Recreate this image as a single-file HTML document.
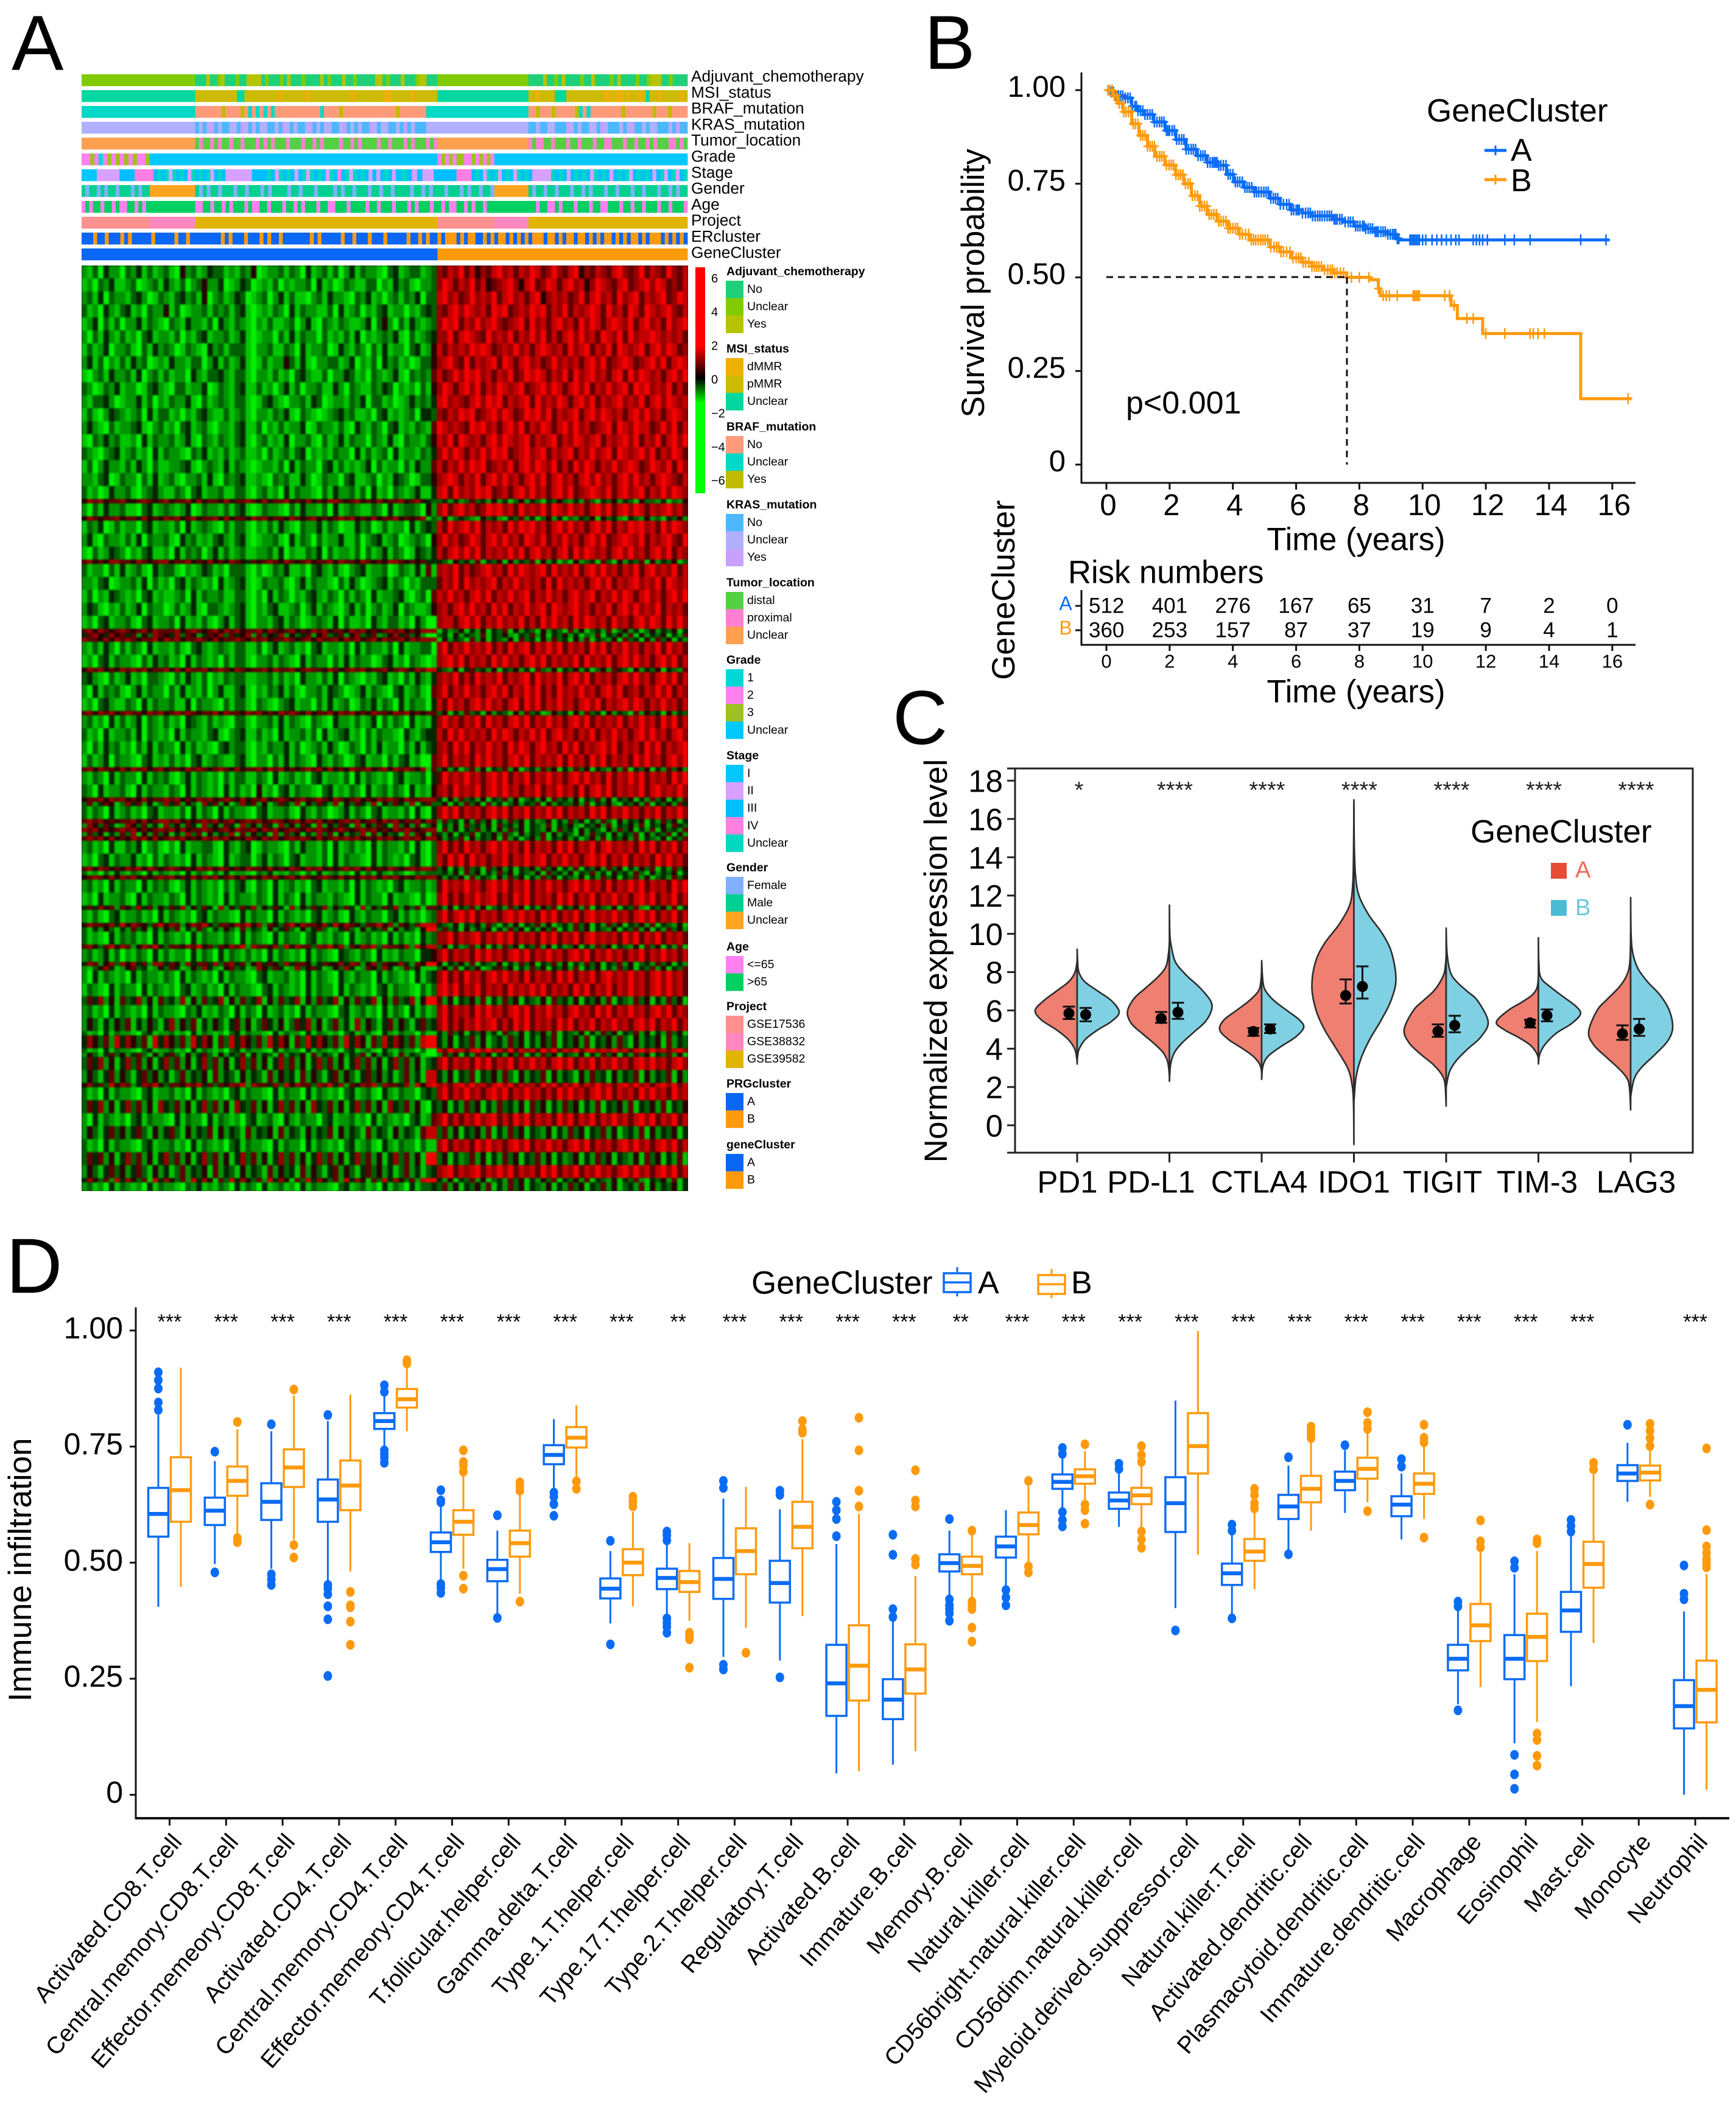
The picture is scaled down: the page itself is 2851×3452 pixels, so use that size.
<!DOCTYPE html>
<html lang="en">
<head>
<meta charset="utf-8">
<title>Gene cluster figure</title>
<style>
html,body{margin:0;padding:0;background:#fff;}
svg{display:block;}
text{font-family:"Liberation Sans",Arial,sans-serif;fill:#000;}
</style>
</head>
<body>
<svg id="fig" width="2851" height="3452" viewBox="0 0 2851 3452">
<defs>
<linearGradient id="cbGrad" x1="0" y1="0" x2="0" y2="1">
<stop offset="0" stop-color="#ff0000"/><stop offset=".35" stop-color="#ff0000"/><stop offset=".49" stop-color="#000000"/><stop offset=".6" stop-color="#00ff00"/><stop offset="1" stop-color="#00ff00"/>
</linearGradient>
<clipPath id="heatClip"><rect x="134" y="436" width="996" height="1520"/></clipPath>
</defs>
<rect x="0" y="0" width="2851" height="3452" fill="#fff"/>

<text x="19" y="115" font-size="128">A</text>
<text x="1518" y="113" font-size="125">B</text>
<text x="1466" y="1222" font-size="125">C</text>
<text x="10" y="2123" font-size="128">D</text>

<g id="panelA">
<g id="tracks"></g>
<g clip-path="url(#heatClip)">
<rect x="134" y="436" width="996" height="1520" fill="#200800"/>
<g id="heat" style="filter:blur(1.3px)"></g>
</g>
<rect x="1142" y="439" width="16" height="371" fill="url(#cbGrad)"/>
<g id="cbTicks"></g>
<g id="legendA"></g>
</g>

<g id="panelB">
<line x1="1776" y1="119" x2="1776" y2="794" stroke="#111" stroke-width="3"/>
<line x1="1775" y1="793" x2="2686" y2="793" stroke="#111" stroke-width="3"/>
<text x="1616" y="465" font-size="52.6" text-anchor="middle" transform="rotate(-90 1616 465)">Survival probability</text>
<text x="2227" y="886" font-size="52.6" text-anchor="middle" dominant-baseline="central">Time (years)</text>
<text x="1849" y="662" font-size="52" dominant-baseline="central">p&lt;0.001</text>
<text x="2343" y="182" font-size="53" dominant-baseline="central">GeneCluster</text>
<g id="bTicks"></g>
<g id="bCurves"></g>
<line x1="1817" y1="455" x2="2212" y2="455" stroke="#111" stroke-width="3" stroke-dasharray="11 8"/>
<line x1="2212" y1="455" x2="2212" y2="763" stroke="#111" stroke-width="3" stroke-dasharray="11 8"/>
<line x1="2438" y1="247" x2="2474" y2="247" stroke="#0a6cf5" stroke-width="5"/>
<line x1="2456" y1="239" x2="2456" y2="255" stroke="#0a6cf5" stroke-width="3"/>
<text x="2481" y="247" font-size="52" dominant-baseline="central">A</text>
<line x1="2438" y1="295" x2="2474" y2="295" stroke="#ff9a0c" stroke-width="5"/>
<line x1="2456" y1="287" x2="2456" y2="303" stroke="#ff9a0c" stroke-width="3"/>
<text x="2481" y="297" font-size="52" dominant-baseline="central">B</text>

<text x="1754" y="940" font-size="52.6" dominant-baseline="central">Risk numbers</text>
<line x1="1776" y1="969" x2="1776" y2="1060" stroke="#111" stroke-width="3"/>
<line x1="1775" y1="1059" x2="2686" y2="1059" stroke="#111" stroke-width="3"/>
<text x="1666" y="969" font-size="52.6" text-anchor="middle" transform="rotate(-90 1666 969)">GeneCluster</text>
<text x="2227" y="1136" font-size="52.6" text-anchor="middle" dominant-baseline="central">Time (years)</text>
<g id="riskTable"></g>
</g>

<g id="panelC">
<text x="1555" y="1578" font-size="53" text-anchor="middle" transform="rotate(-90 1555 1578)">Normalized expression level</text>
<g id="cViolins"></g>
<rect x="1667" y="1262" width="1113" height="631" fill="none" stroke="#222" stroke-width="3"/>
<line x1="1654" y1="1262" x2="1667" y2="1262" stroke="#222" stroke-width="3"/>
<line x1="1654" y1="1893" x2="1667" y2="1893" stroke="#222" stroke-width="3"/>
<g id="cTicks"></g>
<text x="2415" y="1366" font-size="53" dominant-baseline="central">GeneCluster</text>
<rect x="2547" y="1417" width="26" height="26" fill="#e64b35"/>
<text x="2587" y="1429" font-size="38" dominant-baseline="central" style="fill:#ee6a58">A</text>
<rect x="2547" y="1478" width="26" height="26" fill="#4dbbd5"/>
<text x="2587" y="1491" font-size="38" dominant-baseline="central" style="fill:#6cc8de">B</text>
</g>

<g id="panelD">
<line x1="223" y1="2147" x2="223" y2="2987" stroke="#111" stroke-width="3"/>
<line x1="222" y1="2986" x2="2840" y2="2986" stroke="#111" stroke-width="4"/>
<text x="51" y="2578" font-size="53" text-anchor="middle" transform="rotate(-90 51 2578)">Immune infiltration</text>
<text x="1234" y="2107" font-size="53" dominant-baseline="central">GeneCluster</text>
<line x1="1572" y1="2081" x2="1572" y2="2129" stroke="#0a6cf5" stroke-width="3"/>
<rect x="1550" y="2091" width="44" height="31" fill="#fff" stroke="#0a6cf5" stroke-width="3.5"/>
<line x1="1550" y1="2106" x2="1594" y2="2106" stroke="#0a6cf5" stroke-width="3.5"/>
<text x="1606" y="2107" font-size="52" dominant-baseline="central">A</text>
<line x1="1727" y1="2084" x2="1727" y2="2132" stroke="#ff9a0c" stroke-width="3"/>
<rect x="1705" y="2094" width="44" height="31" fill="#fff" stroke="#ff9a0c" stroke-width="3.5"/>
<line x1="1705" y1="2109" x2="1749" y2="2109" stroke="#ff9a0c" stroke-width="3.5"/>
<text x="1759" y="2107" font-size="52" dominant-baseline="central">B</text>
<g id="dTicks"></g>
<g id="dBoxes"></g>
</g>
</svg>

<script>
/* ---------- panel A data ---------- */
const trackNames = ['Adjuvant_chemotherapy','MSI_status','BRAF_mutation','KRAS_mutation','Tumor_location','Grade','Stage','Gender','Age','Project','ERcluster','GeneCluster'];
const adjuvantTrack = [[30,'U'],[64,'NNNYNNUYNNNUNNYYYYNUNNNUNYNNNUNNNNYNUNNNYNNUNNNNNYYNUNNNYNNNUYYNNN'],[24,'U'],[42,'NNNNYNNUNYNNNNUNNYNNNNUNYNNNNUNNUYYYNNUNNNN']];
const msiTrack = [[30,'U'],[64,'PPPPPPPPPPPUUPPPPPPPPPDPPPPPPDPPPPPPPPPPPDPPPPPPPPDDPPPPPDPPPPPP'],[24,'U'],[42,'PPDPPPPUUUPPPPPPPPPPDDPDDPDPPDPUPPDPPPPPDP']];
const brafTrack = [[30,'U'],[61,'NNNNNNNYNNNNYNUNUNUNUNNNNNNNNNNNNUNNNNYNNNNNNNNNNNNNNYNNNNNNN'],[27,'U'],[42,'NNYNNNYNNNNNYUNUNNNNNNNNYNNNNNNNYNNNYNNNN']];
const krasTrack = [[30,'U'],[61,'NUNUYNUNNUUNYUNUNUUNNUNYUNUNNUYNUNUUNNUYNUNUNNYUNUUNNUNYNUNNN'],[27,'U'],[42,'NNUNNUUNNNYUNUNNUUNYUNNNUNUYNNUNUUNNNUNYNN']];
const tumorTrack = [[30,'U'],[64,'DPDDPDPDDPDDPDDDPDPDPDDDPDDDPDDPDPDDDDPDDPDPDDDDPDDPDDDPDPDDDPDP'],[24,'U'],[42,'PDPPDDPDDDPDDPDDDPDDPPDDDPDDPDDPDPDDDPPDPD']];
const gradeTrack = [[18,'2232123232323223'],[76,'U'],[15,'232323322323232'],[51,'U']];
const stageTrack = [[4,'I'],[6,'B'],[4,'C'],[5,'D'],[19,'CUCUBUCUCBUCUCUBCUC'],[7,'B'],[4,'C'],[34,'UCBUCUCBCUBUCUCBUCDCUBUCUCBCBCUCB'],[7,'CUCBC'],[3,'B'],[6,'C'],[4,'D'],[16,'CUCBUCUBCUCBUCUC'],[5,'B'],[36,'UCUCBCUCUCBUCUCBCUCUBCUCUCBCUBCUBCU']];
const genderTrack = [[18,'MFMMFMFMMFMMMFMFMM'],[12,'U'],[79,'MFMFMMFMMMFMMFMMMFMFMMMMFMMFMMMFMMMMFMFMMFMMMFMMFMMFMMMMFMMFMFMMMFMMMFMFMMFMMF'],[9,'U'],[42,'MFMMFMMFMMMFMMFMFMMMFMMFMMMFMMFMMMFMMFMFMM']];
const ageTrack = [[18,'YOYOOYOOYOYYOOYOYO'],[12,'O'],[2,'Y'],[77,'OOYOOYOYOOOYOYYOOYOOOYOOYOYOOOYOOYYOOOYOOOOYOOYOOOYOOOYOYOOOYOOYOYYOOYOYOOYOO'],[9,'O'],[42,'OOYOOYYOYOOOYOOOYOOYYOOOYOOYOOYOOOYOOYOOOY']];
const projectTrack = [[18,'S'],[12,'T'],[64,'G'],[15,'S'],[9,'T'],[42,'G']];
const erTrack = [[94,'AAABAABAAABABAAAAABAAAAABAABAAAAAAAABABAAABAAABABAABAAAAAAABABAAAAABAABAAABAAABAAAAABAABABAA'],[66,'BABBBABABBAABABABBABABABABBBABBABABBABBABABABBABABABBABABBBABABABA']];
const geneTrack = [[94,'A'],[66,'B']];
const allTracks = [adjuvantTrack,msiTrack,brafTrack,krasTrack,tumorTrack,gradeTrack,stageTrack,genderTrack,ageTrack,projectTrack,erTrack,geneTrack];
const trackColors = [
 {N:'#1fd07a',U:'#80cc00',Y:'#b5c400'},
 {D:'#eeb000',P:'#ccbb00',U:'#00d8a0'},
 {N:'#ff9b7b',U:'#00d8c8',Y:'#c0bb00'},
 {N:'#4db8ff',U:'#b0b0ff',Y:'#c8a0ff'},
 {D:'#55d045',P:'#ff80d0',U:'#ffa050'},
 {1:'#00d8d8',2:'#ff80f0',3:'#a0c020',U:'#00c8ff'},
 {I:'#00c8ff',B:'#d8a0ff',C:'#00bfff',D:'#ff80e0',U:'#00d8c0'},
 {F:'#80b0ff',M:'#00d090',U:'#ffa520'},
 {Y:'#ff80f0',O:'#00d060'},
 {S:'#ff9090',T:'#ff88c0',G:'#e0b400'},
 {A:'#0a66f5',B:'#ff9a0c'},
 {A:'#0a66f5',B:'#ff9a0c'}
];
const heatLevels = ['#00f000','#00c400','#009400','#006000','#002800','#280000','#600000','#960000','#c40000','#f40000'];
/* each row: [genes represented, expression levels per sample block] */
const heatRows = [
[3,"213042203241312310523124331213250122313204123130241322103412331237687968576897868798679768957687689767968769768"],
[3,"120324112301231421302352240124301213021223041201321133021423102237986879685678975896798689785798768967897986768"],
[3,"231403221342013213423150231243012302413110231422103241202313240338978679787968978689578786796897869789687896798"],
[3,"312042134120322513012231323134101213204132211304123021341220213437689798786989678798968796878986978698698789768"],
[3,"124031302241321032142213042132102131123024103213211240352031421237989687978976789697868978697986898796897869789"],
[3,"203142131203412213021341223124101220314132203121314021232410312347796898769787968797968689797869879697889878786"],
[3,"131240223103142320132104231333102231132041223014213203141220341258687879898678797868987869789687969878968979867"],
[3,"241302131423012142213302413124101312253141022331240213042312013357897696878969868978679787868979678986789796898"],
[3,"102314223140231312204213342133102213120342113022431203212410323268679798978687967989868796978978689697987868979"],
[3,"320132412201342103312240132134113120241302231142032113243021203157986897968798789678979868979687978969897879686"],
[3,"213342012241302132241031232133101342102231430122132403312012423248978768979896878969787986897968789787968979878"],
[3,"131024321230413312021342113123102213241032101234231120341212304437687989678979867989796878968979878689797868987"],
[3,"242103122341023120341231022134113021312240132213104213203412132169878769897868979687986897978678969879886797968"],
[3,"103242311204132231241032132134102312140223103124132203214103221358796987868979878968789687987896878979687968979"],
[3,"321023412312041322103241213123112031231340212132204131230412213247979868797989678978968789687978969878979687986"],
[3,"130242213142031122341023214132101221304132203413121240312203142268687979896787968979879686979868797898679879697"],
[3,"221340132203141231022314103234112103231142013220341123021432013357898687968979786897968978689797868979786898768"],
[3,"312014223102342113203412231133102312041322103142231304120321241148969787989678689797868979678987968978968797987"],
[1,"576756675567656756675756657566765756675657565776567565756675675433424236342524135243143532426314352431533241325"],
[3,"203142231103412321240132213134101322103142213041232113204123320527968978679897869787969879786897968979868789786"],
[1,"576566756657565767567566757566576756657656756567675657566756567132513432153421436241352413243515342143252314352"],
[3,"132401312203412213041232103133102131421032241320114230131220413438697897968786979897868979786897968798978697987"],
[3,"241032213140322310423121342134101223104132031224113023412301232057978679868979786987968797868979678987968789769"],
[3,"103124320213411204132302413123112231402113240312213031241320143248689797968787979689786896979878689797868979687"],
[1,"675657766576567756675657565765465676576567566757665765657765656444315342614351524361524131523416315243615243513"],
[3,"312203141231042331021243120333102013241120342131023412230132141617879686789786979878969787968979786879689787968"],
[3,"221340122314031203413212041234101322310241322103142012341320213336879697878968797878696978786897968789787969878"],
[3,"130214321203412112304132231133102041320213421320313204122341023068797868979687978968797868978968797986897868979"],
[3,"243102131240322013124103321234102134112302413210241302312403211257868979786979687978969878978687968979787968786"],
[3,"120341223103412230412131024134102213413201232140311204213312042007886897968797879686979786979878697868979869797"],
[1,"675765676567576667567656757675667576567565767566576756567675657771423514251436152431524316251342613524135243514"],
[1,"467547564625376547365246573645726354725346257346257346235746352003415243261435214362514352413261435261524351426"],
[1,"766575767656675767566765756676576756676567576675767567576675767771524316251432516341526341526143251634152635142"],
[3,"213142031320412213103421232133113024123120341221304132213041223307968797879686978968797968786979687978687969786"],
[3,"120341322103142312041321203133102231321041322031413220134120321017897968786979786897968787969787968979786897968"],
[1,"576756576767566757576675676576566757667567665765676756675676576884325146342514352416325143524135264315243514326"],
[3,"342103124120332103142130213233112231312042213140321021341203142147879686978796878969787968979687868979786897968"],
[3,"204132310241322031412130241134102132413102231432012413210341231067968797868979687979686978797868979678687979687"],
[3,"120342113204132231140322103133103210234122031412301324132041322048697868979786896979687978689796878979868797868"],
[1,"675767567665767567676566757665767565767657566757675657665767565663514263415243152634125341526341524316253415243"],
[3,"231204131240321312043213121033102231413210321042213124031320412147978687969786897968797868979687879687978697968"],
[3,"312041223140321204132213410234113120412231304123412031322104213448697978786979868797968978687968797868979786897"],
[3,"203142312031413220413121034233102132241301231420132031412203141347869796879786979868978697968789796878697968789"],
[3,"131240322103412131203412321134102203141321042132013412203134120067968786979786897968787969786979687869797868979"],
[1,"675766575767567566576765676575667576756567675756576675675767657163524136251436251342635142635143252614351426352"],
[3,"213204132204132310241321203133113204123120341221304132120341223046978797868979687968797868979786968797968786979"],
[3,"320412231041322132041321204131205120341322103412132041231320412157869787968979786879687978696897968787968978797"],
[1,"566757675657566767565767567657566756765675676576567565767657667774152634251436251342516342514362514351426351426"],
[1,"362465137462513746253174625137462513642715364271536427153642714633514263516241352436152433526143521435261435264"],
[3,"313204123120341221304132041322103412231042132012413203412213041047979687868979687968797968786979687978687968797"],
[1,"676756566757567767565676756756767567656757675656767567576756675762634152635142635142351426351426315243514263514"],
[1,"275364127536241735264173526417352641735264172536417253641735261351425163425163425143261435214352614352614352643"],
[1,"767565676756567675756676567576675767567657676567656767565767656771625143624152635143251634152431526351426153426"],
[1,"263514263715263514273615243716253417263514273615243716253417265164251436143526315243615243152634152436152436152"],
[1,"676757565767575676756576767565765767567676575676767565767567675775243615243516241352614352413526143526143251436"],
[3,"231204113240231020412233104213401322103142213041231204132213041037968697868979786968786979687968978786979687968"],
[3,"120341322412031321204132104123302413203412213041322104132120341038697969786879687978968797868979687968786979786"],
[1,"675765657675765676565767576565766575657657675656767575657656767763514263416352414352635142614352635142536142635"],
[1,"312031421320413212041320314122103241213203141231204131421320132333425163514263514325163425143624153426315243514"],
[1,"567657576756567675657576756757565767567576567657565767576756576775243516243152635142635143251426351436251342635"],
[3,"231204132204132310241321203134103204123120341221304132120341223126978797868979687968797868979786968797968786979"],
[3,"120412231041322132041321204132213204132041322132104132204122103017968687978968697968786979687968797868979687968"],
[1,"464756265374625364725364172536472536417253647253641725364725361664251436251342635142536143526143251436214352614"],
[3,"213103412231204132120341322104132204132120341231042132203413120237968979687868979786979687968978797868979687968"],
[1,"576657485765368576257685366576857265368576657485765366857265368884325143526314251436251342635142635143526143251"],
[1,"314253142635142536142631425316243152463152463124631524361524315993634152435142635142536142635143251436251426352"],
[3,"312104132312041321204132213204132104132203412132041231204131204237796878968797968786979687968978786979687968786"],
[1,"675368576257685366576856365768276657385766376857265768376657285883514236251426351436251423514263514325163514261"],
[3,"231241302132041312204132041321312041321204132104321320412132204457968786979786897968797868979687978687968797868"],
[1,"476257375746277465274664736746257465374665246557476257365574265995143526143251426351436251426351436251342635142"],
[1,"213574125634125364125374215634127536412735641253741265374126351113526143512463514263514352614351426351436251436"],
[3,"204132120413221320413212041322103412231204132104213220413212041347968697868979786968786979687968978797868979786"],
[3,"132104132204132120341231204132210341321204132204132120341322103138979687968786978797968786979687968797868979786"],
[2,"364725163472516342715263471526347152634715263471526347152634715996251435261426351432516342514352614326351426351"],
[3,"231204132120413221032412132041320412312041322103412312041320413127968786979786897968797868978697968797868979687"],
[3,"253142536142531472536142531462513642513647251362417253146253146347968687978968697968786979687968797868979687968"],
[1,"312041322103412231204132120341322104132204132120341231042132203114263514352416325143526143251426351436251426351"],
[3,"475362847536184753628475163847536284751638475362847516384753628994251436251342635142536143526143526315243516243"],
[1,"312041322103412231204132120341322104132204132120341231042132203008697868979786968786979687968978797868979786897"],
[1,"253146352463152463152463152436152431624351624315243615243162431002635142635142536142635143251426351426351436251"],
[3,"364725147362514736251473625147362514736251473625147362514736251347968786979687968797868979687968797868979786897"],
[3,"253146253146352413624351624315243162534162531462531463524136241884251436143526315243615243152634152436152436152"],
[1,"574638576247685366576846365768276647385766376847265768376647285897868979786897968786979687968797868979786897968"],
[3,"312041322103412231204132120341322104132204132120341231042132203437968797868979687978686979786897968786979786978"],
[3,"364725147362517436251473625174362514736251743625147362517436251043514263514263425163514263514261435261435261435"],
[3,"204132120341322104132204132120341231042132203412231204132120341267968687978968697968786979687968797868979687968"],
[3,"253146352463152463152436152431624351624315243615243162431524316883625143526142635143251426351436251342615243514"],
[3,"312041322103412231204132120341322104132204132120341231042132203117968786979786897968797868979687868979786897968"],
[3,"364625147362514736251473625147362514736251473625147362514736251993514236251426351436251423514263514325163514261"],
[3,"253146352463152413624351624315243162534162531462531463524136241347896878968797968786979687968797868979786897968"],
[1,"475362847536184753628475163847536284751638475362847516384753628994251436251342635142536143526143251436214352614"],
[2,"231204132120413221032412132041320412312041322103412312041320413343625143526142635143251426351436251342615243514"]
];
const legendGroups = [
 ['Adjuvant_chemotherapy',446,[['No','#1fd07a'],['Unclear','#80cc00'],['Yes','#b5c400']]],
 ['MSI_status',573,[['dMMR','#eeb000'],['pMMR','#ccbb00'],['Unclear','#00d8a0']]],
 ['BRAF_mutation',701,[['No','#ff9b7b'],['Unclear','#00d8c8'],['Yes','#c0bb00']]],
 ['KRAS_mutation',829,[['No','#4db8ff'],['Unclear','#b0b0ff'],['Yes','#c8a0ff']]],
 ['Tumor_location',957,[['distal','#55d045'],['proximal','#ff80d0'],['Unclear','#ffa050']]],
 ['Grade',1084,[['1','#00d8d8'],['2','#ff80f0'],['3','#a0c020'],['Unclear','#00c8ff']]],
 ['Stage',1241,[['I','#00c8ff'],['II','#d8a0ff'],['III','#00bfff'],['IV','#ff80e0'],['Unclear','#00d8c0']]],
 ['Gender',1425,[['Female','#80b0ff'],['Male','#00d090'],['Unclear','#ffa520']]],
 ['Age',1555,[['<=65','#ff80f0'],['>65','#00d060']]],
 ['Project',1653,[['GSE17536','#ff9090'],['GSE38832','#ff88c0'],['GSE39582','#e0b400']]],
 ['PRGcluster',1780,[['A','#0a66f5'],['B','#ff9a0c']]],
 ['geneCluster',1880,[['A','#0a66f5'],['B','#ff9a0c']]]
];
const colorbarTicks = [6,4,2,0,-2,-4,-6];

/* ---------- panel B data ---------- */
const timesA = [0,.15,.3,.53,.8,1.0,1.2,1.5,1.86,2.2,2.52,2.85,3.19,3.52,3.8,4.02,4.35,4.68,5.18,5.5,5.84,6.2,6.5,7.17,7.5,7.83,8.2,8.5,8.9,9.16,9.3,15.9];
const survA = [1,.995,.985,.979,.957,.945,.935,.915,.892,.868,.842,.825,.807,.799,.775,.755,.74,.728,.711,.695,.68,.672,.664,.655,.648,.637,.63,.622,.615,.603,.6,.6];
const timesB = [0,.2,.35,.53,.8,1.03,1.3,1.53,1.85,2.19,2.45,2.69,2.95,3.19,3.5,3.85,4.2,4.51,5.18,5.5,5.84,6.2,6.5,6.85,7.17,7.6,8.33,8.6,8.66,10.7,10.9,11.1,11.9,15,16.6];
const survB = [1,.985,.965,.942,.91,.879,.85,.823,.8,.774,.75,.718,.69,.668,.65,.631,.615,.6,.581,.568,.552,.54,.529,.52,.512,.5,.494,.47,.451,.451,.425,.39,.35,.176,.176];
const censorA = [.1,.15,.22,.3,.38,.45,.52,.6,.68,.75,.82,.9,.95,1.0,1.08,1.15,1.22,1.3,1.38,1.45,1.52,1.6,1.68,1.75,1.82,1.9,1.95,2.0,2.08,2.15,2.22,2.3,2.38,2.45,2.52,2.6,2.68,2.75,2.82,2.9,2.98,3.05,3.12,3.2,3.28,3.35,3.4,3.45,3.5,3.55,3.62,3.7,3.78,3.85,3.92,4.0,4.08,4.15,4.22,4.3,4.38,4.45,4.52,4.6,4.68,4.75,4.82,4.9,4.98,5.05,5.12,5.2,5.28,5.35,5.42,5.5,5.6,5.7,5.78,5.85,5.92,6.0,6.05,6.1,6.2,6.3,6.38,6.45,6.52,6.6,6.68,6.75,6.82,6.9,6.98,7.05,7.12,7.2,7.25,7.3,7.38,7.45,7.55,7.65,7.72,7.8,7.88,7.95,8.02,8.1,8.15,8.2,8.28,8.35,8.42,8.5,8.55,8.6,8.68,8.75,8.82,8.9,8.98,9.05,9.1,9.15,9.2,9.25,9.6,9.65,9.7,9.75,9.8,9.85,9.9,10.0,10.1,10.3,10.45,10.6,10.75,10.9,11.05,11.15,11.6,11.7,11.8,11.9,12.05,12.6,12.9,13.4,15.0,15.8];
const censorB = [.05,.1,.18,.25,.32,.4,.48,.55,.62,.7,.78,.85,.92,1.0,1.08,1.15,1.22,1.3,1.38,1.45,1.52,1.6,1.68,1.75,1.82,1.9,1.98,2.05,2.12,2.2,2.28,2.35,2.42,2.5,2.58,2.65,2.72,2.8,2.88,2.95,3.02,3.1,3.18,3.25,3.32,3.4,3.48,3.55,3.62,3.7,3.78,3.85,3.92,4.0,4.08,4.15,4.22,4.3,4.4,4.5,4.58,4.65,4.72,4.8,4.88,4.95,5.02,5.1,5.2,5.3,5.38,5.45,5.52,5.6,5.7,5.8,5.9,6.0,6.08,6.15,6.22,6.3,6.4,6.5,6.58,6.65,6.72,6.8,6.9,7.0,7.08,7.15,7.22,7.3,7.4,7.5,7.62,7.75,8.0,8.3,8.6,8.75,8.85,8.95,9.2,9.7,9.75,9.8,9.85,9.9,10.7,10.85,11.0,11.4,11.6,12.0,12.6,13.4,13.5,13.65,13.85,16.5];
const survYTicks = [[1,'1.00'],[.75,'0.75'],[.5,'0.50'],[.25,'0.25'],[0,'0']];
const timeTicks = [0,2,4,6,8,10,12,14,16];
const riskA = [512,401,276,167,65,31,7,2,0];
const riskB = [360,253,157,87,37,19,9,4,1];

/* ---------- panel C data ---------- */
const genes = ['PD1','PD-L1','CTLA4','IDO1','TIGIT','TIM-3','LAG3'];
const geneStars = ['*','****','****','****','****','****','****'];
const exprTicks = [0,2,4,6,8,10,12,14,16,18];
const densityA = [
 [[8.6,0],[8,.05],[7.5,.2],[7,.5],[6.5,.8],[6,1],[5.5,.85],[5,.5],[4.5,.22],[4,.06],[3.5,.01],[3.2,0]],
 [[9.6,0],[9,.02],[8.3,.08],[7.8,.25],[7.2,.55],[6.6,.85],[5.9,1],[5.3,.9],[4.8,.65],[4.3,.38],[3.8,.15],[3.3,.04],[2.6,0]],
 [[8.2,0],[7.5,.02],[7,.08],[6.5,.3],[6,.6],[5.5,.9],[5,1],[4.5,.8],[4,.45],[3.6,.2],[3.2,.05],[2.8,0]],
 [[16.7,0],[14,.01],[12.5,.03],[11.5,.1],[10.5,.35],[9.5,.7],[8.5,.92],[7.2,1],[6,.9],[5,.7],[4,.42],[3,.15],[2.2,.05],[1.2,.01],[-1,0]],
 [[8.8,0],[8,.04],[7.5,.14],[7,.3],[6.5,.55],[6,.78],[5,1],[4.3,.88],[3.7,.6],[3.2,.32],[2.7,.12],[2.2,.03],[1,0]],
 [[7.8,0],[7.2,.03],[6.8,.15],[6.4,.42],[6,.72],[5.4,1],[5,.82],[4.6,.48],[4.2,.2],[3.8,.05],[3.5,0]],
 [[10,0],[8.5,.02],[7.8,.1],[7.2,.28],[6.6,.55],[6,.8],[4.9,1],[4.2,.88],[3.5,.55],[3,.3],[2.5,.1],[2,.03],[.8,0]]
];
const densityB = [
 [[9.2,0],[8.6,.01],[8,.04],[7.5,.18],[7,.5],[6.5,.82],[5.9,1],[5.4,.8],[5,.5],[4.5,.2],[4,.05],[3.6,.01],[3.3,0]],
 [[11.5,0],[10,.01],[9.3,.05],[8.5,.15],[7.8,.42],[7.2,.72],[6.5,.98],[6,1],[5.4,.85],[4.9,.6],[4.3,.3],[3.8,.12],[3.2,.03],[2.3,0]],
 [[8.6,0],[7.5,.03],[7,.1],[6.5,.3],[6,.6],[5.5,.9],[5.1,1],[4.6,.8],[4.1,.45],[3.6,.15],[3.1,.03],[2.4,0]],
 [[17,0],[14.5,.01],[13,.04],[12,.12],[11,.35],[10,.68],[9,.9],[7.6,1],[6.5,.88],[5.5,.65],[4.5,.38],[3.5,.17],[2.5,.05],[1.2,0]],
 [[10.3,0],[9,.02],[8,.1],[7.5,.25],[7,.5],[6.5,.75],[5.4,1],[4.6,.82],[4,.52],[3.4,.25],[2.8,.08],[2,0]],
 [[9.8,0],[8.5,.01],[7.7,.06],[7.2,.3],[6.7,.6],[6.2,.9],[5.8,1],[5.3,.78],[4.8,.42],[4.2,.15],[3.7,.03],[3.2,0]],
 [[11.9,0],[10,.01],[9,.05],[8.2,.17],[7.5,.4],[6.8,.7],[6,.92],[5.1,1],[4.4,.88],[3.7,.58],[3,.25],[2.4,.08],[1.5,0]]
];
const meanA = [5.85,5.58,4.9,6.78,4.91,5.35,4.78];
const upperA = [6.2,5.92,5.08,7.62,5.27,5.51,5.22];
const lowerA = [5.55,5.35,4.67,6.36,4.62,5.11,4.46];
const meanB = [5.78,5.9,5.03,7.25,5.22,5.74,5.03];
const upperB = [6.13,6.4,5.27,8.3,5.72,6.05,5.56];
const lowerB = [5.43,5.56,4.82,6.62,4.86,5.43,4.67];

/* ---------- panel D data ---------- */
const cellTypes = ['Activated.CD8.T.cell','Central.memory.CD8.T.cell','Effector.memeory.CD8.T.cell','Activated.CD4.T.cell','Central.memory.CD4.T.cell','Effector.memeory.CD4.T.cell','T.follicular.helper.cell','Gamma.delta.T.cell','Type.1.T.helper.cell','Type.17.T.helper.cell','Type.2.T.helper.cell','Regulatory.T.cell','Activated.B.cell','Immature.B.cell','Memory.B.cell','Natural.killer.cell','CD56bright.natural.killer.cell','CD56dim.natural.killer.cell','Myeloid.derived.suppressor.cell','Natural.killer.T.cell','Activated.dendritic.cell','Plasmacytoid.dendritic.cell','Immature.dendritic.cell','Macrophage','Eosinophil','Mast.cell','Monocyte','Neutrophil'];
const cellStars = ['***','***','***','***','***','***','***','***','***','**','***','***','***','***','**','***','***','***','***','***','***','***','***','***','***','***','','***'];
const infiltrationTicks = [[1,'1.00'],[.75,'0.75'],[.5,'0.50'],[.25,'0.25'],[0,'0']];
const aQ3 = [.661,.640,.671,.679,.822,.565,.506,.753,.466,.487,.51,.504,.323,.249,.518,.556,.69,.651,.684,.498,.646,.696,.643,.323,.344,.437,.71,.247];
const aMed = [.605,.612,.631,.636,.805,.544,.486,.732,.444,.467,.465,.456,.24,.205,.499,.535,.674,.634,.628,.477,.621,.676,.625,.293,.293,.397,.692,.191];
const aQ1 = [.556,.581,.592,.588,.788,.523,.46,.712,.423,.443,.422,.414,.17,.163,.481,.511,.659,.616,.566,.452,.594,.656,.6,.268,.249,.351,.676,.143];
const aHi = [.818,.719,.783,.805,.874,.621,.569,.809,.525,.542,.638,.615,.54,.375,.569,.613,.727,.696,.849,.567,.709,.742,.692,.4,.475,.559,.758,.395];
const aLo = [.405,.497,.487,.461,.742,.462,.391,.655,.369,.387,.297,.289,.046,.065,.425,.45,.613,.577,.402,.39,.525,.607,.55,.195,.111,.234,.631,0];
const aOut = [[.91,.893,.875,.845,.829],[.739,.479],[.798,.475,.464,.452],[.818,.452,.444,.432,.406,.378,.256],[.882,.868,.742,.734,.726,.715],[.656,.634,.63,.454,.446,.435],[.602,.381],[.651,.642,.626,.601],[.547,.324],[.567,.559,.548,.38,.37,.362,.349],[.676,.661,.28,.27],[.655,.646,.253],[.631,.613,.594,.557],[.56,.517,.4,.383],[.594,.421,.408,.4,.391,.375],[.441,.425,.408],[.747,.734,.609,.592,.578],[.713,.702],[.354],[.582,.569,.38],[.727,.518],[.753],[.723,.707],[.416,.406,.182],[.503,.489,.086,.044,.013],[.592,.579,.567],[.797],[.494,.433,.421]];
const bQ3 = [.727,.707,.744,.72,.874,.613,.569,.792,.529,.482,.574,.631,.365,.324,.513,.608,.701,.661,.822,.551,.687,.726,.692,.411,.39,.545,.709,.289];
const bMed = [.656,.676,.705,.666,.852,.588,.542,.769,.5,.458,.525,.577,.278,.27,.493,.581,.686,.645,.751,.524,.659,.702,.67,.365,.34,.497,.694,.226];
const bQ1 = [.588,.644,.663,.613,.834,.56,.513,.748,.473,.437,.475,.531,.203,.218,.475,.561,.67,.626,.692,.504,.63,.681,.648,.331,.288,.446,.677,.156];
const bHi = [.92,.787,.86,.862,.922,.688,.663,.839,.609,.542,.663,.766,.605,.471,.563,.665,.74,.716,.999,.613,.763,.78,.751,.525,.525,.69,.759,.475];
const bLo = [.448,.561,.55,.481,.783,.487,.433,.684,.406,.375,.36,.385,.051,.094,.416,.5,.63,.573,.517,.443,.569,.63,.594,.232,.157,.327,.642,.011];
const bOut = [[],[.803,.553,.544],[.873,.538,.511],[.437,.408,.404,.373,.323],[.936,.929],[.742,.717,.709,.696,.472,.444],[.673,.663,.655,.416],[.675,.659],[.642,.631,.621],[.349,.341,.335,.274],[.306],[.805,.787,.78],[.812,.742,.655,.621],[.699,.634,.621,.508,.496],[.569,.416,.408,.4,.36,.33],[.676,.492,.479],[.755,.625,.613,.584],[.751,.732,.717,.567,.55,.532],[],[.659,.646,.628,.617],[.793,.784,.776,.768],[.824,.801,.788,.611],[.797,.769,.759,.554],[.591,.546,.533],[.55,.542,.132,.118,.084,.063],[.715,.701],[.799,.784,.768,.751,.625],[.746,.57,.535,.521,.508,.5,.49]];

/* ---------- helpers ---------- */
const svgRoot = document.getElementById('fig');
const NS = svgRoot.namespaceURI;
function add(parent, tag, attrs, txt){
  const el = document.createElementNS(NS, tag);
  for (const k in attrs) el.setAttribute(k, attrs[k]);
  if (txt !== undefined) el.textContent = txt;
  parent.appendChild(el);
  return el;
}
const byId = id => document.getElementById(id);
const blue = '#0a6cf5', orange = '#ff9a0c';
let el;

/* ---------- panel A ---------- */
const trackX = c => 134 + c * 995 / 160;
const trackY = i => 122 + i * 26;
allTracks.forEach((pieces, t) => {
  let cursor = 0;
  pieces.forEach(piece => {
    const n = piece[0], s = piece[1], w = n / s.length;
    for (let k = 0; k < s.length; k++) {
      el = add(byId('tracks'), 'rect', {x: trackX(cursor + k * w), y: trackY(t), width: w * 995 / 160 + .4, height: 19.5, fill: trackColors[t][s[k]]});
      
      
    }
    cursor += n;
  });
  el = add(byId('tracks'), 'text', {x: 1135, y: 125 + t * 26.3, 'font-size': 26.3, 'dominant-baseline': 'central'}, trackNames[t]);
  
  
});
const heatX = c => 134 + c * 8.973;
const heatTotal = heatRows.reduce((a, r) => a + r[0], 0);
const heatUnit = 1520 / heatTotal;
let heatCursor = 0;
heatRows.forEach(row => {
  const s = row[1], y = 436 + heatCursor * heatUnit, h = row[0] * heatUnit;
  for (let c = 0; c < s.length && c < 111; c++) {
    el = add(byId('heat'), 'rect', {x: heatX(c), y: y, width: 9.3, height: h + .4, fill: heatLevels[+s[c]]});
    
    
  }
  heatCursor += row[0];
});
const cbY = v => 624 - v * 27.7;
colorbarTicks.forEach(v => {
  el = add(byId('cbTicks'), 'text', {x: 1168, y: cbY(v), 'font-size': 20, 'dominant-baseline': 'central'}, String(v).replace('-', '\u2212'));
  
  
});
legendGroups.forEach(g => {
  el = add(byId('legendA'), 'text', {x: 1193, y: g[1], 'font-size': 19.5, 'font-weight': 'bold', 'dominant-baseline': 'central'}, g[0]);
  
  
  g[2].forEach((it, i) => {
    const top = g[1] + 15 + i * 28.6;
    el = add(byId('legendA'), 'rect', {x: 1192, y: top, width: 29, height: 28.8, fill: it[1]});
    
    
    el = add(byId('legendA'), 'text', {x: 1227, y: top + 14, 'font-size': 19.5, 'dominant-baseline': 'central'}, it[0]);
    
    
  });
});

/* ---------- panel B ---------- */
const xB = t => 1817 + t * 51.93;
const yB = s => 763 - s * 615;
survYTicks.forEach(t => {
  el = add(byId('bTicks'), 'line', {x1: 1766, x2: 1776, y1: yB(t[0]), y2: yB(t[0]), stroke: '#111', 'stroke-width': 3});
  
  
  el = add(byId('bTicks'), 'text', {x: 1750, y: yB(t[0]) - 5, 'font-size': 49, 'text-anchor': 'end', 'dominant-baseline': 'central'}, t[1]);
  
  
});
timeTicks.forEach(t => {
  el = add(byId('bTicks'), 'line', {x1: xB(t), x2: xB(t), y1: 793, y2: 804, stroke: '#111', 'stroke-width': 3});
  
  
  el = add(byId('bTicks'), 'text', {x: xB(t) + 3, y: 830, 'font-size': 49, 'text-anchor': 'middle', 'dominant-baseline': 'central'}, String(t));
  
  
});
function stepPath(ts, ss){
  let d = 'M' + xB(ts[0]) + ' ' + yB(ss[0]);
  for (let i = 1; i < ts.length; i++) d += 'H' + xB(ts[i]) + 'V' + yB(ss[i]);
  return d;
}
function survAt(ts, ss, t){
  let v = ss[0];
  for (let i = 0; i < ts.length; i++) if (ts[i] <= t) v = ss[i];
  return v;
}
[[timesA, survA, censorA, blue, 'a'], [timesB, survB, censorB, orange, 'b']].forEach(s => {
  el = add(byId('bCurves'), 'path', {d: stepPath(s[0], s[1]), fill: 'none', stroke: s[3], 'stroke-width': 5});
  
  
  s[2].forEach(t => {
    const cx = xB(t), cy = yB(survAt(s[0], s[1], t));
    el = add(byId('bCurves'), 'path', {d: 'M' + cx + ' ' + (cy - 9) + 'V' + (cy + 9) + 'M' + (cx - 7) + ' ' + cy + 'H' + (cx + 7), stroke: s[3], 'stroke-width': 2.5, fill: 'none'});
    
    
  });
});
[[riskA, 995, 'A', blue], [riskB, 1035, 'B', orange]].forEach(r => {
  el = add(byId('riskTable'), 'line', {x1: 1766, x2: 1776, y1: r[1], y2: r[1], stroke: '#111', 'stroke-width': 3});
  
  
  el = add(byId('riskTable'), 'text', {x: 1750, y: r[1] - 4, 'font-size': 32, 'text-anchor': 'middle', 'dominant-baseline': 'central', style: 'fill:' + r[3]}, r[2]);
  
  
  r[0].forEach((n, i) => {
    el = add(byId('riskTable'), 'text', {x: xB(timeTicks[i]), y: r[1], 'font-size': 35, 'text-anchor': i === 0 ? 'start' : 'middle', 'dominant-baseline': 'central'}, String(n));
    if (i === 0) el.setAttribute('x', 1788);
    
    
  });
});
timeTicks.forEach(t => {
  el = add(byId('riskTable'), 'line', {x1: xB(t), x2: xB(t), y1: 1059, y2: 1069, stroke: '#111', 'stroke-width': 3});
  
  
  el = add(byId('riskTable'), 'text', {x: xB(t), y: 1086, 'font-size': 31, 'text-anchor': 'middle', 'dominant-baseline': 'central'}, String(t));
  
  
});

/* ---------- panel C ---------- */
const xC = i => 1769 + i * 151.5;
const yC = v => 1848 - v * 31.44;
const violinHalf = 69;
const geneLabelShift = [-16,-30,-4,0,-6,-2,9];
function smooth(pts){
  let d = '';
  for (let i = 0; i < pts.length - 1; i++) {
    const p0 = pts[Math.max(i - 1, 0)], p1 = pts[i], p2 = pts[i + 1], p3 = pts[Math.min(i + 2, pts.length - 1)];
    const c1 = [p1[0] + (p2[0] - p0[0]) / 6, p1[1] + (p2[1] - p0[1]) / 6];
    const c2 = [p2[0] - (p3[0] - p1[0]) / 6, p2[1] - (p3[1] - p1[1]) / 6];
    d += 'C' + c1[0] + ' ' + c1[1] + ' ' + c2[0] + ' ' + c2[1] + ' ' + p2[0] + ' ' + p2[1];
  }
  return d;
}
function violinPath(cx, side, dens){
  const pts = dens.map(p => [cx + side * p[1] * violinHalf, yC(p[0])]);
  return 'M' + pts[0][0] + ' ' + pts[0][1] + smooth(pts) + 'Z';
}
genes.forEach((g, i) => {
  const cx = xC(i);
  el = add(byId('cViolins'), 'path', {d: violinPath(cx, -1, densityA[i]), fill: '#ef7f70', stroke: '#2c2c2c', 'stroke-width': 2.6, 'stroke-linejoin': 'round'});
  
  
  el = add(byId('cViolins'), 'path', {d: violinPath(cx, 1, densityB[i]), fill: '#80d0e3', stroke: '#2c2c2c', 'stroke-width': 2.6, 'stroke-linejoin': 'round'});
  
  
  [[-13.5, meanA, upperA, lowerA, 'a'], [14, meanB, upperB, lowerB, 'b']].forEach(s => {
    const px = cx + s[0], t = yC(s[2][i]), b = yC(s[3][i]);
    el = add(byId('cViolins'), 'path', {d: 'M' + (px - 10) + ' ' + t + 'H' + (px + 10) + 'M' + px + ' ' + t + 'V' + b + 'M' + (px - 10) + ' ' + b + 'H' + (px + 10), stroke: '#111', 'stroke-width': 3, fill: 'none'});
    
    
    el = add(byId('cViolins'), 'circle', {cx: px, cy: yC(s[1][i]), r: 9, fill: '#000'});
    
    
  });
  el = add(byId('cTicks'), 'line', {x1: cx, x2: cx, y1: 1893, y2: 1909, stroke: '#222', 'stroke-width': 3});
  
  
  el = add(byId('cTicks'), 'text', {x: cx + geneLabelShift[i], y: 1941, 'font-size': 51, 'text-anchor': 'middle', 'dominant-baseline': 'central'}, g);
  
  
  el = add(byId('cTicks'), 'text', {x: cx + (i === 0 ? 3 : 9), y: 1298, 'font-size': 38, 'text-anchor': 'middle', 'dominant-baseline': 'central', style: 'fill:#222'}, geneStars[i]);
  
  
});
exprTicks.forEach(v => {
  el = add(byId('cTicks'), 'line', {x1: 1654, x2: 1667, y1: yC(v), y2: yC(v), stroke: '#222', 'stroke-width': 3});
  
  
  el = add(byId('cTicks'), 'text', {x: 1647, y: yC(v) + 1, 'font-size': 51, 'text-anchor': 'end', 'dominant-baseline': 'central'}, String(v));
  
  
});

/* ---------- panel D ---------- */
const xD = i => 278.5 + i * 92.8;
const yD = v => 2947.5 - v * 762.5;
infiltrationTicks.forEach(t => {
  el = add(byId('dTicks'), 'line', {x1: 213, x2: 223, y1: yD(t[0]), y2: yD(t[0]), stroke: '#111', 'stroke-width': 3});
  
  
  el = add(byId('dTicks'), 'text', {x: 202, y: yD(t[0]) - 4, 'font-size': 50, 'text-anchor': 'end', 'dominant-baseline': 'central'}, t[1]);
  
  
});
function drawBox(cx, color, q1, med, q3, lo, hi, outs, key){
  const g = byId('dBoxes');
  el = add(g, 'path', {d: 'M' + cx + ' ' + yD(hi) + 'V' + yD(q3) + 'M' + cx + ' ' + yD(q1) + 'V' + yD(lo), stroke: color, 'stroke-width': 3, fill: 'none'});
  
  
  el = add(g, 'rect', {x: cx - 16.5, y: yD(q3), width: 33, height: yD(q1) - yD(q3), fill: '#fff', stroke: color, 'stroke-width': 3.5});
  
  
  el = add(g, 'line', {x1: cx - 16.5, x2: cx + 16.5, y1: yD(med), y2: yD(med), stroke: color, 'stroke-width': 6.5});
  
  
  outs.forEach(v => {
    el = add(g, 'ellipse', {cx: cx, cy: yD(v), rx: 7, ry: 8, fill: color});
    
    
  });
}
cellTypes.forEach((name, i) => {
  const cx = xD(i);
  drawBox(cx - 18.5, blue, aQ1[i], aMed[i], aQ3[i], aLo[i], aHi[i], aOut[i], 'a-' + name);
  drawBox(cx + 18.5, orange, bQ1[i], bMed[i], bQ3[i], bLo[i], bHi[i], bOut[i], 'b-' + name);
  el = add(byId('dTicks'), 'line', {x1: cx, x2: cx, y1: 2986, y2: 2998, stroke: '#111', 'stroke-width': 3});
  
  
  const lx = cx + 22, ly = 3026;
  el = add(byId('dTicks'), 'text', {x: lx, y: ly, 'font-size': 39, 'text-anchor': 'end', transform: 'rotate(-49.5 ' + lx + ' ' + ly + ')'}, name);
  
  
  if (cellStars[i]) {
    el = add(byId('dTicks'), 'text', {x: cx, y: 2171, 'font-size': 34, 'text-anchor': 'middle', 'dominant-baseline': 'central'}, cellStars[i]);
    
    
  }
});
</script>
</body>
</html>
